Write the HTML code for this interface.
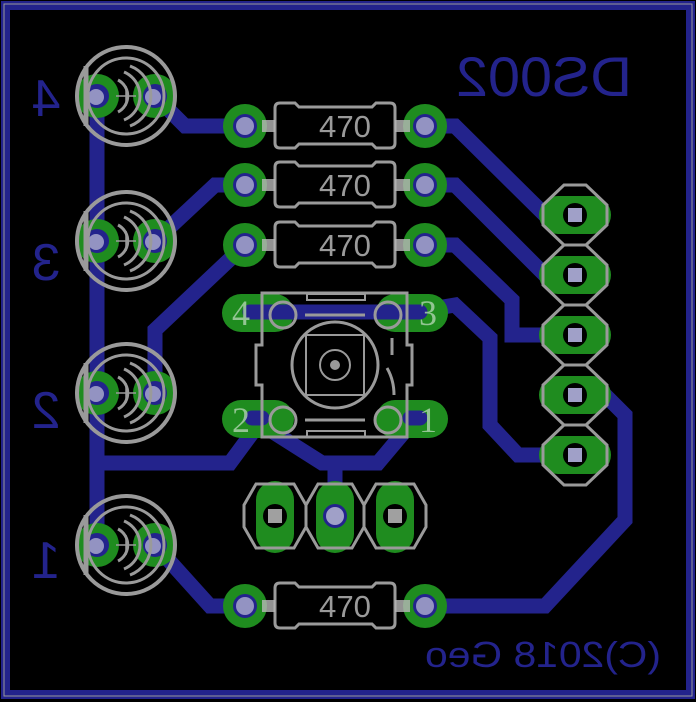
<!DOCTYPE html>
<html><head><style>html,body{margin:0;padding:0;background:#000}svg{display:block}</style></head>
<body>
<svg width="696" height="702" viewBox="0 0 696 702" xmlns="http://www.w3.org/2000/svg" font-family="Liberation Sans, sans-serif">
<rect width="696" height="702" fill="#000"/>
<rect x="5.5" y="5.5" width="685" height="689" fill="none" stroke="#23238c" stroke-width="9"/>
<rect x="4" y="4" width="688" height="692" fill="none" stroke="#9a9a9a" stroke-width="1"/>

<!-- traces -->
<g fill="none" stroke="#23238c" stroke-width="15" stroke-linejoin="miter" stroke-linecap="square">
<polyline points="97,96 97,545"/>
<polyline points="97,463 230,463 258,425"/>
<polyline points="155,96 185,126 245,126"/>
<polyline points="155,241 215,185 245,185"/>
<polyline points="245,245 155,330 155,393"/>
<polyline points="155,545 210,606 245,606"/>
<polyline points="425,606 545,606 625,520 625,415 605,395 575,395"/>
<polyline points="425,126 455,126 545,215 575,215"/>
<polyline points="425,185 455,185 545,275 575,275"/>
<polyline points="425,245 455,245 512,300 512,335 575,335"/>
<polyline points="413,312 455,305 490,338 490,425 518,455 575,455"/>
<polyline points="260,312 410,312"/>
<polyline points="262,425 322,463 378,463 410,425"/>
<polyline points="335,463 335,516"/>
</g>

<g fill="#1f8c1f">
<circle cx="97" cy="96" r="22"/><circle cx="155" cy="96" r="22"/>
<circle cx="97" cy="241" r="22"/><circle cx="155" cy="241" r="22"/>
<circle cx="97" cy="393" r="22"/><circle cx="155" cy="393" r="22"/>
<circle cx="97" cy="545" r="22"/><circle cx="155" cy="545" r="22"/>
<circle cx="245" cy="126" r="22"/><circle cx="425" cy="126" r="22"/>
<circle cx="245" cy="185" r="22"/><circle cx="425" cy="185" r="22"/>
<circle cx="245" cy="245" r="22"/><circle cx="425" cy="245" r="22"/>
<circle cx="245" cy="606" r="22"/><circle cx="425" cy="606" r="22"/>
<rect x="539" y="196" width="72" height="38" rx="19"/>
<rect x="539" y="256" width="72" height="38" rx="19"/>
<rect x="539" y="316" width="72" height="38" rx="19"/>
<rect x="539" y="376" width="72" height="38" rx="19"/>
<rect x="539" y="436" width="72" height="38" rx="19"/>
<rect x="256" y="481" width="38" height="72" rx="19"/>
<rect x="316" y="481" width="38" height="72" rx="19"/>
<rect x="376" y="481" width="38" height="72" rx="19"/>
<rect x="222" y="294" width="72" height="38" rx="19"/>
<rect x="376" y="294" width="72" height="38" rx="19"/>
<rect x="222" y="400" width="72" height="38" rx="19"/>
<rect x="376" y="400" width="72" height="38" rx="19"/>
</g>
<g stroke="#23238c" stroke-width="15" stroke-linecap="round"><line x1="250" y1="312" x2="420" y2="312"/><line x1="252" y1="418" x2="262" y2="418"/><line x1="410" y1="418" x2="420" y2="418"/></g>

<g fill="#23238c">
<circle cx="97" cy="96" r="12"/><circle cx="155" cy="96" r="12"/>
<circle cx="97" cy="241" r="12"/><circle cx="155" cy="241" r="12"/>
<circle cx="97" cy="393" r="12"/><circle cx="155" cy="393" r="12"/>
<circle cx="97" cy="545" r="12"/><circle cx="155" cy="545" r="12"/>
<circle cx="245" cy="126" r="12"/><circle cx="425" cy="126" r="12"/>
<circle cx="245" cy="185" r="12"/><circle cx="425" cy="185" r="12"/>
<circle cx="245" cy="245" r="12"/><circle cx="425" cy="245" r="12"/>
<circle cx="245" cy="606" r="12"/><circle cx="425" cy="606" r="12"/>
<circle cx="335" cy="516" r="12"/>
</g>
<g fill="#000">
<circle cx="575" cy="215" r="12"/><circle cx="575" cy="275" r="12"/><circle cx="575" cy="335" r="12"/><circle cx="575" cy="395" r="12"/><circle cx="575" cy="455" r="12"/>
<circle cx="275" cy="516" r="12"/><circle cx="395" cy="516" r="12"/>
</g>
<g fill="#a0a0c8">
<rect x="568" y="208" width="14" height="14"/><rect x="568" y="268" width="14" height="14"/><rect x="568" y="328" width="14" height="14"/><rect x="568" y="388" width="14" height="14"/><rect x="568" y="448" width="14" height="14"/>
<circle cx="335" cy="516" r="9"/>
</g>
<g fill="#a0a0a0"><rect x="268" y="509" width="14" height="14"/><rect x="388" y="509" width="14" height="14"/></g>
<g fill="#a0a0c8" opacity="0.9">
<circle cx="96" cy="97" r="8"/><circle cx="153" cy="97" r="8"/>
<circle cx="96" cy="242" r="8"/><circle cx="153" cy="242" r="8"/>
<circle cx="96" cy="394" r="8"/><circle cx="153" cy="394" r="8"/>
<circle cx="96" cy="546" r="8"/><circle cx="153" cy="546" r="8"/>
<circle cx="245" cy="126" r="9"/><circle cx="425" cy="126" r="9"/>
<circle cx="245" cy="185" r="9"/><circle cx="425" cy="185" r="9"/>
<circle cx="245" cy="245" r="9"/><circle cx="425" cy="245" r="9"/>
<circle cx="245" cy="606" r="9"/><circle cx="425" cy="606" r="9"/>
</g>

<g fill="none" stroke="#9a9a9a" stroke-width="4">
<g id="led"><circle cx="126" cy="96" r="49"/><line x1="86" y1="66" x2="86" y2="126" stroke-width="5"/><circle cx="126" cy="96" r="38" stroke-width="3"/>
<path d="M118,80 A18,18 0 0 1 118,112 M124,72 A26,26 0 0 1 124,120 M130,66 A32,32 0 0 1 130,126" stroke-width="3"/>
<path d="M116,96 h20 M126,86 v20" stroke-width="1.5"/></g>
<use href="#led" y="145"/><use href="#led" y="297"/><use href="#led" y="449"/>
<g id="res"><path d="M280,103 L295,103 L299,107 L372,107 L376,103 L390,103 Q395,103 395,108 L395,143 Q395,148 390,148 L376,148 L372,144 L299,144 L295,148 L280,148 Q275,148 275,143 L275,108 Q275,103 280,103 Z" stroke-width="3"/>
<line x1="262" y1="126" x2="275" y2="126" stroke="#b8b8b8" stroke-width="12" opacity="0.8"/><line x1="395" y1="126" x2="410" y2="126" stroke="#b8b8b8" stroke-width="12" opacity="0.8"/></g>
<use href="#res" y="59"/><use href="#res" y="119"/><use href="#res" y="480"/>
<g stroke-width="3">
<polygon points="564,185 586,185 607,205 607,225 586,245 564,245 543,225 543,205"/>
<polygon points="564,245 586,245 607,265 607,285 586,305 564,305 543,285 543,265"/>
<polygon points="564,305 586,305 607,325 607,345 586,365 564,365 543,345 543,325"/>
<polygon points="564,365 586,365 607,385 607,405 586,425 564,425 543,405 543,385"/>
<polygon points="564,425 586,425 607,445 607,465 586,485 564,485 543,465 543,445"/>
<polygon points="244,505 256,484 294,484 306,505 306,527 294,548 256,548 244,527"/>
<polygon points="306,505 318,484 352,484 364,505 364,527 352,548 318,548 306,527"/>
<polygon points="364,505 376,484 414,484 426,505 426,527 414,548 376,548 364,527"/>
</g>
<g stroke-width="3">
<path d="M262,293 L407,293 L407,345 L412,345 L412,385 L407,385 L407,437 L262,437 L262,385 L256,385 L256,345 L262,345 Z"/>
<circle cx="335" cy="365" r="43"/>
<rect x="306" y="335" width="58" height="60" stroke-width="2"/>
<circle cx="335" cy="365" r="15" stroke-width="2"/>
<line x1="305" y1="315" x2="365" y2="315"/><line x1="305" y1="420" x2="365" y2="420"/>
<rect x="307" y="294" width="58" height="6" stroke-width="2"/><rect x="307" y="431" width="58" height="6" stroke-width="2"/>
<line x1="392" y1="338" x2="392" y2="355"/><path d="M387,368 Q394,380 394,395"/>
<circle cx="283" cy="315" r="13"/><circle cx="388" cy="315" r="13"/><circle cx="283" cy="420" r="13"/><circle cx="388" cy="420" r="13"/>
</g>
</g>
<circle cx="335" cy="365" r="5" fill="#9a9a9a"/>

<g fill="#9a9a9a" font-size="31" text-anchor="middle">
<text x="345" y="137" textLength="52" lengthAdjust="spacingAndGlyphs">470</text>
<text x="345" y="196" textLength="52" lengthAdjust="spacingAndGlyphs">470</text>
<text x="345" y="256" textLength="52" lengthAdjust="spacingAndGlyphs">470</text>
<text x="345" y="617" textLength="52" lengthAdjust="spacingAndGlyphs">470</text>
</g>
<g fill="#a8d0a8" font-family="Liberation Serif, serif" font-size="36" text-anchor="middle" opacity="0.85">
<text x="241" y="325">4</text><text x="428" y="325">3</text><text x="241" y="432">2</text><text x="428" y="432">1</text>
</g>
<g fill="#23238c" text-anchor="middle">
<text transform="translate(544,96) scale(-1,1)" font-size="56" textLength="176" lengthAdjust="spacingAndGlyphs">DS002</text>
<text transform="translate(46,116) scale(-1,1)" font-size="52">4</text>
<text transform="translate(46,280) scale(-1,1)" font-size="52">3</text>
<text transform="translate(46,428) scale(-1,1)" font-size="52">2</text>
<text transform="translate(46,578) scale(-1,1)" font-size="52">1</text>
<text transform="translate(543,667) scale(-1,1)" font-size="36" textLength="236" lengthAdjust="spacingAndGlyphs">(C)2018 Geo</text>
</g>
</svg>
</body></html>
